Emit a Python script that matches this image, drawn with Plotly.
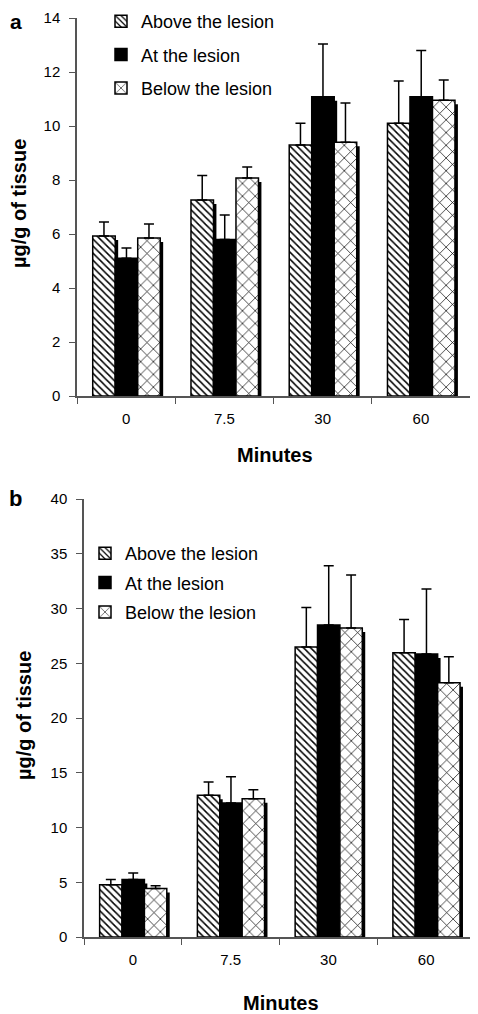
import plotly.graph_objects as go

categories = ["0", "7.5", "30", "60"]
series_names = ["Above the lesion", "At the lesion", "Below the lesion"]

# Panel a
a_above = [5.93, 7.26, 9.30, 10.10]
a_above_err = [0.51, 0.91, 0.80, 1.57]
a_at = [5.10, 5.80, 11.08, 11.08]
a_at_err = [0.38, 0.90, 1.96, 1.72]
a_below = [5.85, 8.07, 9.40, 10.95]
a_below_err = [0.52, 0.41, 1.45, 0.75]

# Panel b
b_above = [4.78, 12.94, 26.48, 25.97]
b_above_err = [0.46, 1.21, 3.62, 3.03]
b_at = [5.24, 12.24, 28.49, 25.84]
b_at_err = [0.60, 2.40, 5.41, 5.94]
b_below = [4.44, 12.63, 28.22, 23.23]
b_below_err = [0.25, 0.82, 4.84, 2.37]

W, H = 478, 1014
PAGE_OFF = 8  # page body margin
bar_w = 0.229
offsets = [-0.34, -0.111, 0.118]
shadow_dx = 0.03
FONT = "Liberation Sans, Arial, sans-serif"


def px(X):
    return (X - PAGE_OFF) / W


def py(Y):
    return 1 - (Y - PAGE_OFF) / H


styles = [
    dict(color="white", pattern=dict(shape="\\", fgcolor="black", bgcolor="white", size=5, solidity=0.3, fillmode="replace")),
    dict(color="black"),
    dict(color="white", pattern=dict(shape="x", fgcolor="black", bgcolor="white", size=9, solidity=0.15, fillmode="replace")),
]

fig = go.Figure()


def add_panel(xa, ya, legend, series, errs, shadow_dy):
    for vals, off in zip(series, offsets):
        fig.add_trace(go.Bar(
            x=categories, y=[v - shadow_dy for v in vals], width=bar_w, offset=off + shadow_dx,
            marker=dict(color="black", line=dict(width=0)), showlegend=False,
            hoverinfo="skip", xaxis=xa, yaxis=ya))
    for name, vals, err, off, st in zip(series_names, series, errs, offsets, styles):
        marker = dict(st)
        marker["line"] = dict(color="black", width=1.5)
        fig.add_trace(go.Bar(
            x=categories, y=vals, width=bar_w, offset=off, name=name,
            marker=marker, legend=legend, legendgroup=legend + name,
            error_y=dict(type="data", array=err, symmetric=False, arrayminus=[0] * len(err),
                         color="black", thickness=1.5, width=5),
            xaxis=xa, yaxis=ya))


add_panel("x", "y", "legend", [a_above, a_at, a_below],
          [a_above_err, a_at_err, a_below_err], 4 / 27)
add_panel("x2", "y2", "legend2", [b_above, b_at, b_below],
          [b_above_err, b_at_err, b_below_err], 4 / 10.95)

axis_common = dict(showline=True, linecolor="#555", linewidth=1.5, ticks="outside",
                   tickcolor="#555", ticklen=6, tickfont=dict(family=FONT, size=15, color="black"),
                   showgrid=False, zeroline=False, automargin=False)

fig.update_layout(
    template="none",
    width=W, height=H, margin=dict(l=0, r=0, t=0, b=0, pad=0, autoexpand=False),
    paper_bgcolor="white", plot_bgcolor="white", barmode="overlay",
    font=dict(family=FONT, color="black"),
    xaxis=dict(domain=[px(77), px(470)], anchor="y", type="category", tickson="boundaries",
               ticklabelstandoff=8, **axis_common),
    yaxis=dict(domain=[py(396), py(18)], anchor="x", range=[0, 14], dtick=2,
               ticklabelstandoff=6, **axis_common),
    xaxis2=dict(domain=[px(84), px(475)], anchor="y2", type="category", tickson="boundaries",
                ticklabelstandoff=8, **axis_common),
    yaxis2=dict(domain=[py(937), py(499)], anchor="x2", range=[0, 40], dtick=5,
                ticklabelstandoff=6, **axis_common),
    legend=dict(x=px(101), y=py(3), xanchor="left", yanchor="top", bgcolor="rgba(0,0,0,0)",
                borderwidth=0, font=dict(family=FONT, size=18, color="black"),
                tracegroupgap=7, itemwidth=30),
    legend2=dict(x=px(85), y=py(535), xanchor="left", yanchor="top", bgcolor="rgba(0,0,0,0)",
                 borderwidth=0, font=dict(family=FONT, size=18, color="black"),
                 tracegroupgap=3, itemwidth=30),
)

annots = [
    dict(text="<b>Minutes</b>", x=px(275), y=py(455), font=dict(size=20), yanchor="middle"),
    dict(text="<b>Minutes</b>", x=px(281), y=py(1003), font=dict(size=20), yanchor="middle"),
    dict(text="<b>µg/g of tissue</b>", x=px(19), y=py(204), textangle=-90, font=dict(size=20),
         yanchor="middle"),
    dict(text="<b>µg/g of tissue</b>", x=px(24), y=py(716), textangle=-90, font=dict(size=20),
         yanchor="middle"),
    dict(text="<b>a</b>", x=px(16), y=1.0, font=dict(size=21), yanchor="top"),
    dict(text="<b>b</b>", x=px(15), y=py(499), font=dict(size=22), yanchor="middle"),
]
for a in annots:
    fig.add_annotation(xref="paper", yref="paper", showarrow=False, xanchor="center", **a)

fig.write_html("out.html")
